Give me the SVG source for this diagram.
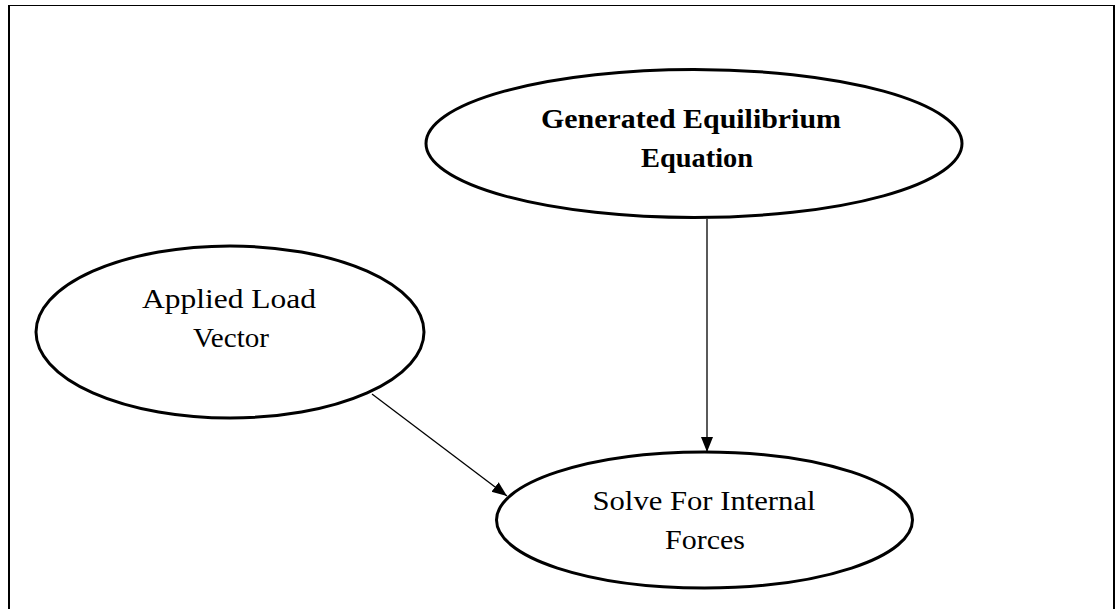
<svg xmlns="http://www.w3.org/2000/svg" width="1117" height="609" viewBox="0 0 1117 609">
  <style>
    .node { fill: #ffffff; stroke: #000000; stroke-width: 3; }
    .label { font-family: "Liberation Serif", "Times New Roman", serif; font-size: 26.5px; fill: #000000; text-anchor: middle; }
    .bold { font-weight: bold; }
    .edge { stroke: #000000; stroke-width: 1.3; fill: none; marker-end: url(#arrow); }
    .frame { stroke: #000000; fill: none; }
  </style>
  <defs>
    <marker id="arrow" markerUnits="userSpaceOnUse" markerWidth="16" markerHeight="14" refX="15" refY="7" orient="auto">
      <path d="M0,1 L15,7 L0,13 Z" fill="#000000"/>
    </marker>
  </defs>

  <rect width="1117" height="609" fill="#ffffff"/>

  <!-- page frame -->
  <g id="frame" class="frame">
    <line x1="8" y1="5.5" x2="1115" y2="5.5" stroke-width="1.2"/>
    <line x1="9" y1="5" x2="9" y2="609" stroke-width="2"/>
    <line x1="1114" y1="5" x2="1114" y2="609" stroke-width="2"/>
  </g>

  <!-- connectors -->
  <g id="connectors">
    <line class="edge" x1="707" y1="219" x2="707" y2="452"/>
    <line class="edge" x1="372" y1="394" x2="507" y2="496"/>
  </g>

  <g id="node-equilibrium">
    <ellipse class="node" cx="694" cy="143.5" rx="268" ry="74"/>
    <text class="label bold" x="691" y="128" textLength="300" lengthAdjust="spacingAndGlyphs">Generated Equilibrium</text>
    <text class="label bold" x="697" y="167" textLength="112" lengthAdjust="spacingAndGlyphs">Equation</text>
  </g>

  <g id="node-load">
    <ellipse class="node" cx="230" cy="332" rx="194" ry="86"/>
    <text class="label" x="229" y="308" textLength="174" lengthAdjust="spacingAndGlyphs">Applied Load</text>
    <text class="label" x="231" y="347" textLength="76" lengthAdjust="spacingAndGlyphs">Vector</text>
  </g>

  <g id="node-solve">
    <ellipse class="node" cx="704.5" cy="520" rx="208" ry="68"/>
    <text class="label" x="704" y="510" textLength="223" lengthAdjust="spacingAndGlyphs">Solve For Internal</text>
    <text class="label" x="705" y="549" textLength="80" lengthAdjust="spacingAndGlyphs">Forces</text>
  </g>
</svg>
